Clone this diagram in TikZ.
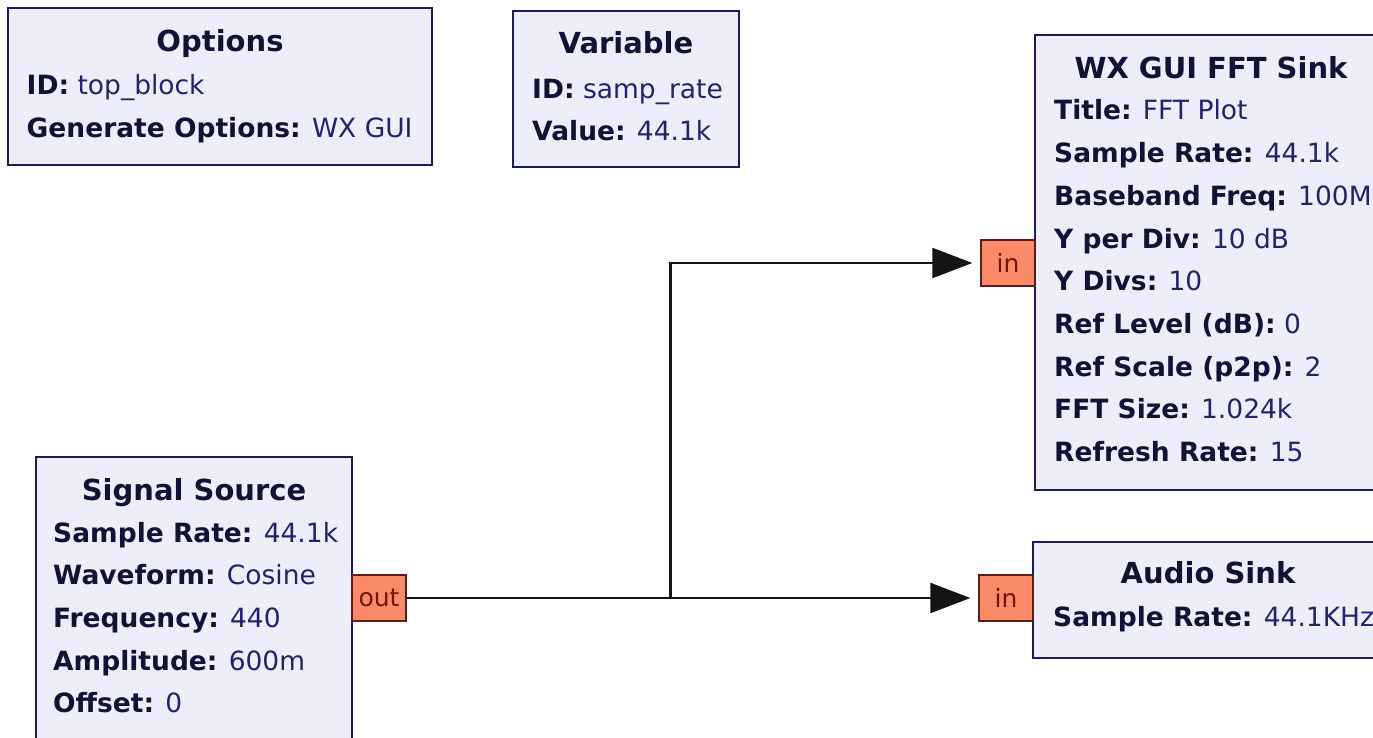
\documentclass[tikz,border=0pt]{standalone}
\usepackage{fontspec}
\setmainfont{DejaVu Sans}
\usetikzlibrary{arrows.meta,calc}

\definecolor{blockfill}{RGB}{238,238,250}
\definecolor{blockdraw}{RGB}{28,28,88}
\definecolor{labelcol}{RGB}{18,18,55}
\definecolor{valcol}{RGB}{35,35,105}
\definecolor{portfill}{RGB}{250,138,104}
\definecolor{portdraw}{RGB}{90,30,25}
\definecolor{porttext}{RGB}{110,22,12}
\definecolor{wirecol}{RGB}{20,20,20}

% bold parameter name
\newcommand{\pname}[1]{{\bfseries\color{labelcol}#1}}

\begin{document}
\begin{tikzpicture}[x=1pt,y=-1pt,
  blockbox/.style={draw=blockdraw, fill=blockfill, line width=1.8pt},
  blocktitle/.style={anchor=base, inner sep=0pt, text=labelcol,
    font=\fontsize{29}{32}\selectfont\bfseries},
  params/.style={anchor=base west, inner sep=0pt, text=valcol,
    font=\fontsize{26.5}{42.7}\selectfont},
  port/.style={draw=portdraw, fill=portfill, line width=1.3pt, inner sep=0pt,
    text=porttext, font=\fontsize{25}{30}\selectfont},
  wire/.style={draw=wirecol, line width=2.2pt},
  arrowwire/.style={wire, -{Triangle[length=40pt,width=30pt]}, shorten >=8pt}
]
\clip (0,0) rectangle (1373,738);
\fill[white] (0,0) rectangle (1373,738);

% ---------------- blocks ----------------
\draw[blockbox] (8,8) rectangle (432,165);
\node[blocktitle] (opttitle) at (220,51.7) {Options};
\node[params] (optparams) at (26.5,95) {\begin{tabular}[t]{@{}l@{}}
  \pname{ID:} top\_block\\
  \pname{Generate Options:} WX GUI
\end{tabular}};

\draw[blockbox] (513,11) rectangle (739,167);
\node[blocktitle] (vartitle) at (626,53.3) {Variable};
\node[params] (varparams) at (532,98.3) {\begin{tabular}[t]{@{}l@{}}
  \pname{ID:} samp\_rate\\
  \pname{Value:} 44.1k
\end{tabular}};

\draw[blockbox] (1035,35) rectangle (1400,490);
\node[blocktitle] (ffttitle) at (1211,78.3) {WX GUI FFT Sink};
\node[params] (fftparams) at (1054,120) {\begin{tabular}[t]{@{}l@{}}
  \pname{Title:} FFT Plot\\
  \pname{Sample Rate:} 44.1k\\
  \pname{Baseband Freq:} 100M\\
  \pname{Y per Div:} 10 dB\\
  \pname{Y Divs:} 10\\
  \pname{Ref Level (dB):} 0\\
  \pname{Ref Scale (p2p):} 2\\
  \pname{FFT Size:} 1.024k\\
  \pname{Refresh Rate:} 15
\end{tabular}};

\draw[blockbox] (1033,542) rectangle (1400,658);
\node[blocktitle] (audtitle) at (1208,583) {Audio Sink};
\node[params] (audparams) at (1053,626.7) {\begin{tabular}[t]{@{}l@{}}
  \pname{Sample Rate:} 44.1KHz
\end{tabular}};

\draw[blockbox] (36,457) rectangle (352,780);
\node[blocktitle] (srctitle) at (194,500) {Signal Source};
\node[params] (srcparams) at (53,542) {\begin{tabular}[t]{@{}l@{}}
  \pname{Sample Rate:} 44.1k\\
  \pname{Waveform:} Cosine\\
  \pname{Frequency:} 440\\
  \pname{Amplitude:} 600m\\
  \pname{Offset:} 0
\end{tabular}};

% ---------------- ports ----------------
\node[port, minimum width=54pt, minimum height=46pt] (out) at (379,598) {out};
\node[port, minimum width=54pt, minimum height=46pt] (fftin) at (1008,263) {in};
\node[port, minimum width=54pt, minimum height=46pt] (audin) at (1006,598) {in};

% ---------------- connections ----------------
\coordinate (split) at (670.5,598);
\draw[wire] (out.east) -- (split);
\draw[arrowwire] (split) |- (fftin.west);
\draw[arrowwire] (split) -- (audin.west);
\end{tikzpicture}
\end{document}
